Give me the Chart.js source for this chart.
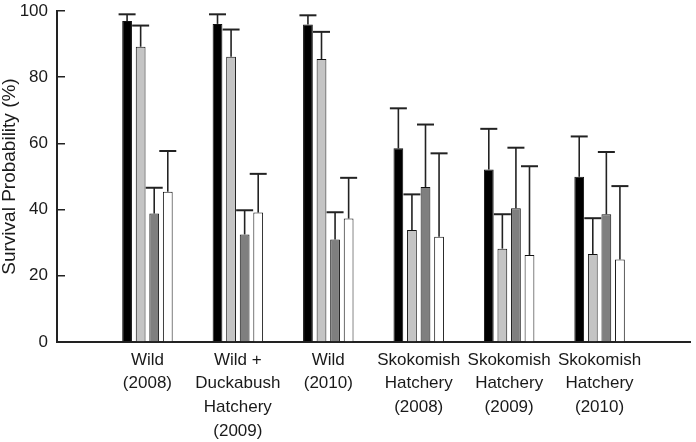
<!DOCTYPE html>
<html>
<head>
<meta charset="utf-8">
<script src="https://cdn.jsdelivr.net/npm/chart.js@4/dist/chart.umd.min.js"></script>
<style>
  html, body { margin: 0; padding: 0; background: #fff; }
  #wrap { width: 696px; height: 442px; }
</style>
</head>
<body>
<div id="wrap"><canvas id="myChart"></canvas></div>
<script>
// group labels (multi-line)
var groups = [
  ["Wild", "(2008)"],
  ["Wild +", "Duckabush", "Hatchery", "(2009)"],
  ["Wild", "(2010)"],
  ["Skokomish", "Hatchery", "(2008)"],
  ["Skokomish", "Hatchery", "(2009)"],
  ["Skokomish", "Hatchery", "(2010)"]
];
var yTicks = [0, 20, 40, 60, 80, 100];

// survival (%) and upper error limit for each of the 4 bars in a group
var blackVals  = [97.0, 96.1, 95.9, 58.5, 52.1, 49.9];
var blackUpper = [99.0, 99.0, 98.7, 70.6, 64.4, 62.1];
var lightVals  = [89.2, 86.2, 85.5, 33.8, 28.2, 26.6];
var lightUpper = [95.6, 94.4, 93.7, 44.6, 38.6, 37.4];
var darkVals   = [38.8, 32.5, 31.0, 46.8, 40.4, 38.6];
var darkUpper  = [46.6, 39.8, 39.2, 65.7, 58.7, 57.4];
var whiteVals  = [45.4, 39.1, 37.3, 31.8, 26.3, 24.9];
var whiteUpper = [57.7, 50.8, 49.6, 57.0, 53.1, 47.1];

function toPoints(vals) {
  return vals.map(function(v, i) { return { x: i, y: v }; });
}

function makeSet(vals, upper, color) {
  return {
    data: toPoints(vals),
    upper: upper,
    backgroundColor: color,
    borderColor: "#111",
    borderWidth: 1,
    categoryPercentage: 0.6,
    barPercentage: 0.72
  };
}

var errorBars = {
  id: "errorBars",
  afterDatasetsDraw: function(chart) {
    var ctx = chart.ctx;
    var yScale = chart.scales.y;
    ctx.save();
    ctx.strokeStyle = "#222";
    chart.data.datasets.forEach(function(ds, d) {
      var meta = chart.getDatasetMeta(d);
      meta.data.forEach(function(bar, i) {
        var top = yScale.getPixelForValue(ds.upper[i]);
        ctx.lineWidth = 1.6;
        ctx.beginPath();
        ctx.moveTo(bar.x, bar.y);
        ctx.lineTo(bar.x, top);
        ctx.stroke();
        ctx.lineWidth = 2;
        ctx.beginPath();
        ctx.moveTo(bar.x - 8.5, top);
        ctx.lineTo(bar.x + 8.5, top);
        ctx.stroke();
      });
    });
    ctx.restore();
  }
};

const ctx = document.getElementById("myChart").getContext("2d");
var chart = new Chart(ctx, {
  type: "bar",
  data: {
    datasets: [
      makeSet(blackVals, blackUpper, "#000000"),
      makeSet(lightVals, lightUpper, "#c4c4c4"),
      makeSet(darkVals, darkUpper, "#7f7f7f"),
      makeSet(whiteVals, whiteUpper, "#ffffff")
    ]
  },
  options: {
    responsive: true,
    maintainAspectRatio: false,
    animation: false,
    layout: { padding: { top: 0, right: 6, left: 0, bottom: 0 } },
    plugins: {
      legend: { display: false },
      tooltip: { enabled: false }
    },
    scales: {
      x: {
        type: "linear",
        offset: false,
        min: -1,
        max: 6,
        afterBuildTicks: function(scale) {
          scale.ticks = groups.map(function(g, i) { return { value: i }; });
        },
        afterFit: function(scale) { scale.height = 100; },
        grid: { display: false, drawTicks: false },
        border: { color: "#222", width: 2 },
        ticks: {
          autoSkip: false,
          maxRotation: 0,
          padding: 6,
          color: "#1a1a1a",
          font: { family: "'Liberation Sans', Arial, sans-serif", size: 17, lineHeight: 1.4 },
          callback: function(value) { return groups[value]; }
        }
      },
      y: {
        min: 0,
        max: 100,
        afterBuildTicks: function(scale) {
          scale.ticks = yTicks.map(function(v) { return { value: v }; });
        },
        afterFit: function(scale) {
          scale.width = 57;
          scale.paddingTop = 11;
        },
        grid: { drawOnChartArea: false, tickLength: -8, color: "#222", lineWidth: 1.5 },
        border: { color: "#222", width: 2 },
        ticks: {
          padding: 17,
          color: "#1a1a1a",
          font: { family: "'Liberation Sans', Arial, sans-serif", size: 17 }
        },
        title: {
          display: true,
          text: "Survival Probability (%)",
          color: "#1a1a1a",
          padding: 0,
          font: { family: "'Liberation Sans', Arial, sans-serif", size: 19, lineHeight: 1.05 }
        }
      }
    }
  },
  plugins: [errorBars]
});
</script>
</body>
</html>
